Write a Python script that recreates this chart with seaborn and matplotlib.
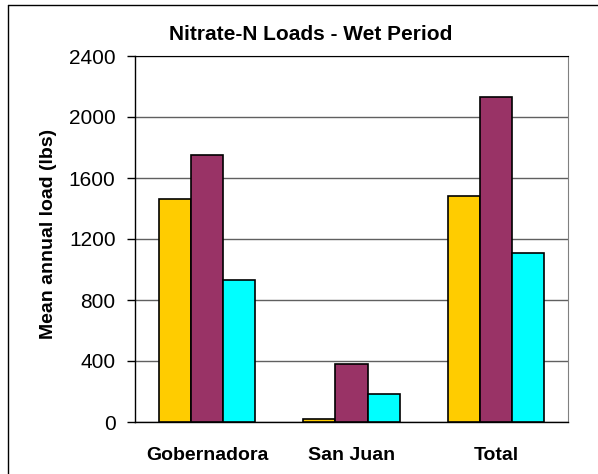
import pandas as pd
import numpy as np
import matplotlib.pyplot as plt
import seaborn as sns

# ---------------------------------------
# Data
# ---------------------------------------
sites = ["Gobernadora", "San Juan", "Total"]
series_a = [1462, 22, 1482]
series_b = [1753, 382, 2133]
series_c = [931, 186, 1108]
series_names = ["Series 1", "Series 2", "Series 3"]
colors = ["#FFCC00", "#993366", "#00FFFF"]

df = pd.DataFrame({
    "site": sites * 3,
    "series": np.repeat(series_names, len(sites)),
    "load": series_a + series_b + series_c,
})

# ---------------------------------------
# Plot
# ---------------------------------------
sns.set_style("white")
plt.rcParams['font.family'] = ['Liberation Sans', 'DejaVu Sans']
plt.rcParams['text.color'] = 'black'
plt.rcParams['axes.labelcolor'] = 'black'
plt.rcParams['xtick.color'] = 'black'
plt.rcParams['ytick.color'] = 'black'

fig = plt.figure(figsize=(5.98, 4.74), dpi=100)
ax = fig.add_axes([135 / 598, 1 - 422 / 474, 433 / 598, 366 / 474])

sns.barplot(data=df, x="site", y="load", hue="series", palette=colors,
            width=2 / 3, edgecolor="black", linewidth=1.2, legend=False,
            saturation=1, ax=ax, zorder=3)

ax.set_ylim(0, 2400)
ax.set_xlim(-0.5, 2.5)
ax.set_yticks(np.arange(0, 2401, 400))
ax.yaxis.grid(True, color="#606060", linewidth=1, zorder=0)
ax.set_axisbelow(True)

ax.set_xticks([0, 1, 2])
ax.set_xticklabels(sites, fontsize=14, fontweight="bold")
ax.set_xticks([-0.5, 0.5, 1.5, 2.5], minor=True)
ax.tick_params(axis="x", which="major", length=0, pad=18)
ax.tick_params(axis="x", which="minor", length=5, width=1, color="black", direction="out")
ax.tick_params(axis="y", length=6, width=1, color="black", direction="out",
               labelsize=15, left=True, pad=8)

for side in ["left", "bottom"]:
    ax.spines[side].set_color("black")
    ax.spines[side].set_linewidth(1)
ax.spines["top"].set_color("black")
ax.spines["right"].set_color("#808080")

ax.set_xlabel("")
ax.set_ylabel("")
fig.text(53 / 598, 1 - 339 / 474, "Mean annual load (lbs)", rotation=90,
         rotation_mode="anchor", ha="left", va="baseline",
         fontsize=14, fontweight="bold")
fig.text(311 / 598, 1 - 40 / 474, "Nitrate-N Loads - Wet Period",
         ha="center", va="baseline", fontsize=15, fontweight="bold")

# outer frame (left and top edges visible in the original)
fig.add_artist(plt.Line2D([8 / 598, 8 / 598], [0, 1 - 5 / 474],
                          transform=fig.transFigure, color="black", linewidth=1))
fig.add_artist(plt.Line2D([8 / 598, 1], [1 - 5 / 474, 1 - 5 / 474],
                          transform=fig.transFigure, color="black", linewidth=1))

plt.savefig("out.png", dpi=100)
